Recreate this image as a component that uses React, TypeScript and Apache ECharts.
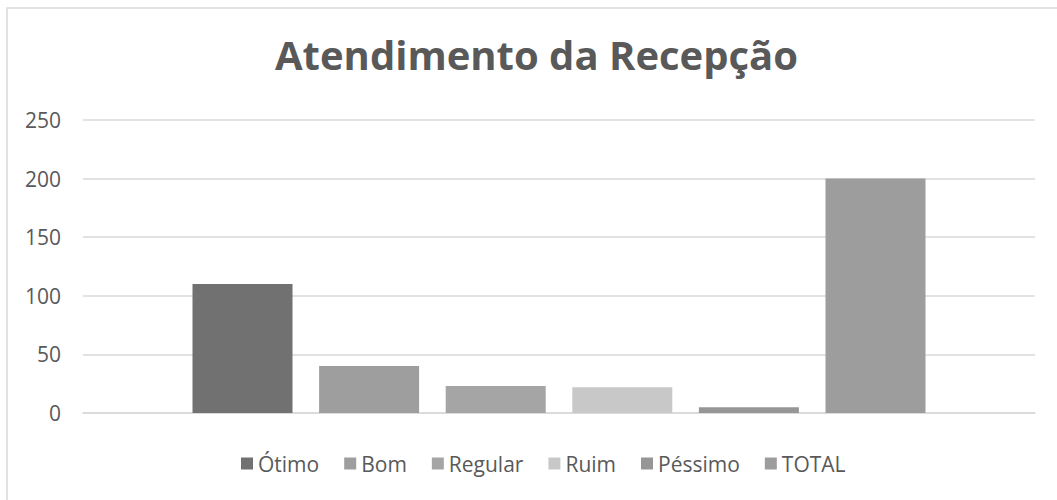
import React, { useEffect, useRef } from "react";
import * as echarts from "echarts";

const categories = ["Atendimento da Recepção"];
const seriesNames = ["Ótimo", "Bom", "Regular", "Ruim", "Péssimo", "TOTAL"];
const seriesValues = [110, 40, 23, 22, 5, 200];
const seriesColors = ["#717171", "#9e9e9e", "#a5a5a5", "#c8c8c8", "#969696", "#9d9d9d"];
const yTicks = { min: 0, max: 250, interval: 50 };

export default function App() {
  const ref = useRef<HTMLDivElement>(null);
  useEffect(() => {
    if (!ref.current) return;
    const chart = echarts.init(ref.current, null, { renderer: "svg" });
    const font = "'Open Sans', sans-serif";
    chart.setOption({
      animation: false,
      backgroundColor: "#ffffff",
      title: {
        text: "Atendimento da Recepção",
        left: 270,
        top: 29,
        textStyle: { fontFamily: font, fontSize: 40, fontWeight: "bold", color: "#595959" },
      },
      graphic: [
        {
          type: "rect",
          shape: { x: 7, y: 8, width: 1200, height: 700 },
          style: { fill: "none", stroke: "#d9d9d9", lineWidth: 1.5 },
          silent: true,
        },
      ],
      legend: {
        bottom: 21,
        left: 236,
        icon: "rect",
        itemWidth: 12,
        itemHeight: 12,
        itemGap: 25,
        textStyle: { fontFamily: font, fontSize: 21, color: "#595959" },
        data: seriesNames,
      },
      grid: { left: 83, right: 22, top: 120, bottom: 87, containLabel: false },
      xAxis: {
        type: "category",
        data: categories,
        axisLine: { show: true, lineStyle: { color: "#d9d9d9", width: 1.5 } },
        axisTick: { show: false },
        axisLabel: { show: false },
      },
      yAxis: {
        type: "value",
        min: yTicks.min,
        max: yTicks.max,
        interval: yTicks.interval,
        axisLine: { show: false },
        axisTick: { show: false },
        axisLabel: { fontFamily: font, fontSize: 21, color: "#595959", margin: 22 },
        splitLine: { lineStyle: { color: "#d9d9d9", width: 1.5 } },
      },
      series: seriesNames.map((name, i) => ({
        name,
        type: "bar",
        data: [seriesValues[i]],
        barWidth: 100,
        barGap: "26.6%",
        itemStyle: { color: seriesColors[i] },
      })),
    });
    return () => chart.dispose();
  }, []);
  return (
    <div
      ref={ref}
      style={{ position: "fixed", left: 0, top: 0, width: 1057, height: 500 }}
    />
  );
}
